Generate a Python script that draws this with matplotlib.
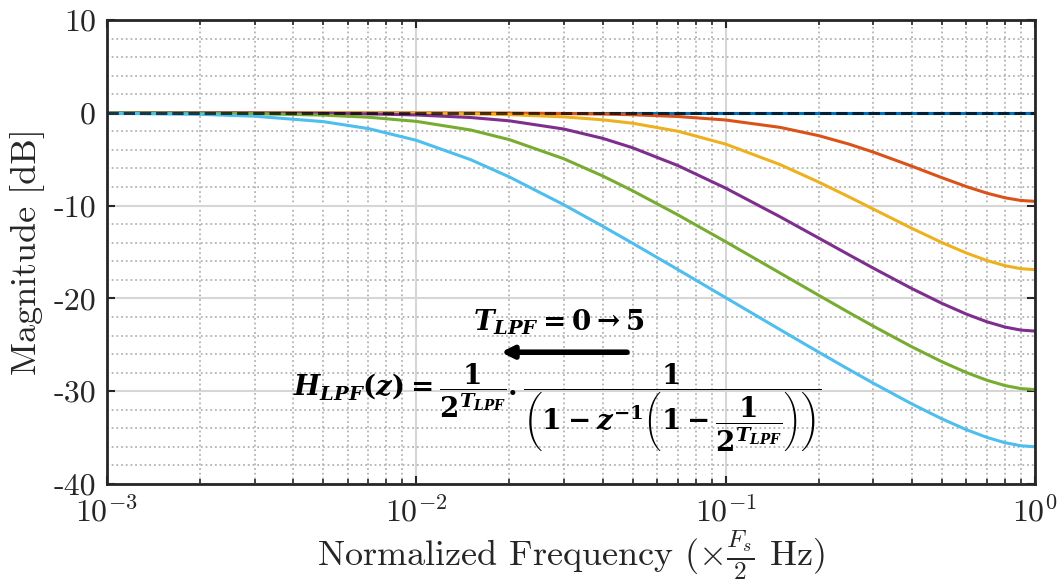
import matplotlib
matplotlib.use("Agg")
import matplotlib.pyplot as plt
from matplotlib.ticker import LogLocator, MultipleLocator, FuncFormatter, NullFormatter

# normalized frequency (x Fs/2) and magnitude [dB]
freq = [0.001, 0.002, 0.003, 0.005, 0.007, 0.01, 0.015, 0.02, 0.03, 0.04, 0.05, 0.07,
        0.1, 0.15, 0.2, 0.25, 0.3, 0.4, 0.5, 0.6, 0.7, 0.8, 0.9, 1.0]

mag_t0 = [0.0] * len(freq)
mag_t1 = [-0.0001, -0.0003, -0.0008, -0.002, -0.004, -0.009, -0.019, -0.034, -0.076, -0.135, -0.209, -0.399,
          -0.776, -1.571, -2.465, -3.368, -4.231, -5.756, -6.990, -7.949, -8.664, -9.157, -9.447, -9.542]
mag_t2 = [-0.0005, -0.002, -0.005, -0.013, -0.025, -0.051, -0.114, -0.201, -0.440, -0.753, -1.124, -1.981,
          -3.374, -5.582, -7.469, -9.047, -10.372, -12.451, -13.979, -15.108, -15.923, -16.475, -16.797, -16.902]
mag_t3 = [-0.002, -0.010, -0.022, -0.060, -0.116, -0.234, -0.509, -0.867, -1.752, -2.749, -3.764, -5.679,
          -8.117, -11.208, -13.501, -15.290, -16.737, -18.943, -20.531, -21.691, -22.524, -23.088, -23.415, -23.522]
mag_t4 = [-0.010, -0.041, -0.092, -0.250, -0.477, -0.923, -1.855, -2.894, -4.956, -6.799, -8.395, -10.990,
          -13.890, -17.269, -19.670, -21.510, -22.986, -25.220, -26.822, -27.989, -28.826, -29.392, -29.720, -29.827]
mag_t5 = [-0.042, -0.167, -0.367, -0.951, -1.702, -2.964, -5.055, -6.915, -9.914, -12.213, -14.053, -16.883,
          -19.917, -23.370, -25.797, -27.650, -29.132, -31.373, -32.978, -34.147, -34.985, -35.551, -35.879, -35.987]

series = [mag_t0, mag_t1, mag_t2, mag_t3, mag_t4, mag_t5]
colors = ["#0072BD", "#D95319", "#EDB120", "#7E2F8E", "#77AC30", "#4DBEEE"]
y_tick_labels = ["-40", "-30", "-20", "-10", "0", "10"]

plt.rcParams["font.family"] = "cmr10"
plt.rcParams["mathtext.fontset"] = "cm"
plt.rcParams["axes.formatter.use_mathtext"] = True
plt.rcParams["axes.unicode_minus"] = False
# bold math for the annotations
plt.rcParams["mathtext.it"] = "DejaVu Serif:italic:bold"
plt.rcParams["mathtext.rm"] = "DejaVu Serif:bold"
plt.rcParams["mathtext.bf"] = "DejaVu Serif:bold"
plt.rcParams["mathtext.sf"] = "DejaVu Serif:bold"

fig = plt.figure(figsize=(10.61, 5.83), dpi=100)
ax = fig.add_axes([107 / 1061, 1 - 484 / 583, 928 / 1061, 464 / 583])

for mag, c in zip(series, colors):
    ax.plot(freq, mag, color=c, lw=2.2)
ax.plot(freq, mag_t0, color="black", lw=2.2, ls="--", alpha=0.7)

ax.set_xscale("log")
ax.set_xlim(1e-3, 1)
ax.set_ylim(-40, 10)

ax.xaxis.set_major_locator(LogLocator(base=10, numticks=10))
ax.xaxis.set_minor_locator(LogLocator(base=10, subs=range(2, 10), numticks=20))
ax.xaxis.set_minor_formatter(NullFormatter())
ax.yaxis.set_major_locator(MultipleLocator(10))
ax.yaxis.set_minor_locator(MultipleLocator(2))
ax.yaxis.set_major_formatter(FuncFormatter(lambda v, _: y_tick_labels[int(round((v + 40) / 10))]
                                           if -40 <= v <= 10 else ""))

ax.grid(which="major", color="#d6d6d6", lw=1.5, ls="-")
ax.grid(which="minor", color="#b3b3b3", lw=1.3, ls=(0, (1, 1.6)))
ax.set_axisbelow(True)

ax.tick_params(which="both", direction="in", top=True, right=True, colors="#262626",
               labelsize=23, labelcolor="#262626")
ax.tick_params(which="major", length=6, width=1.5)
ax.tick_params(axis="y", which="major", pad=8)
ax.tick_params(axis="x", which="major", pad=8)
ax.tick_params(which="minor", length=3.5, width=1.2)
ax.tick_params(axis="y", which="minor", left=False, right=False)
for s in ax.spines.values():
    s.set_linewidth(2)
    s.set_color("#262626")

ax.set_xlabel(r"Normalized Frequency ($\times\frac{F_s}{2}$ Hz)", fontsize=26, color="#262626", labelpad=1)
ax.set_ylabel("Magnitude [dB]", fontsize=26, color="#262626", labelpad=6)

ax.text(0.029, -22.6, r"$T_{LPF} = 0 \rightarrow 5$", fontsize=20, ha="center", va="center",
        math_fontfamily="custom")
ax.annotate("", xy=(0.0184, -25.8), xytext=(0.049, -25.8),
            arrowprops=dict(arrowstyle="-|>,head_length=0.7,head_width=0.35", color="black", lw=4))
ax.text(0.004, -31.8,
        r"$H_{LPF}(z) = \dfrac{1}{2^{T_{LPF}}}.\dfrac{1}{\left(1 - z^{-1}\left(1 - \dfrac{1}{2^{T_{LPF}}}\right)\right)}$",
        fontsize=20, ha="left", va="center", math_fontfamily="custom")

fig.savefig("out.png", dpi=100)
plt.close(fig)
